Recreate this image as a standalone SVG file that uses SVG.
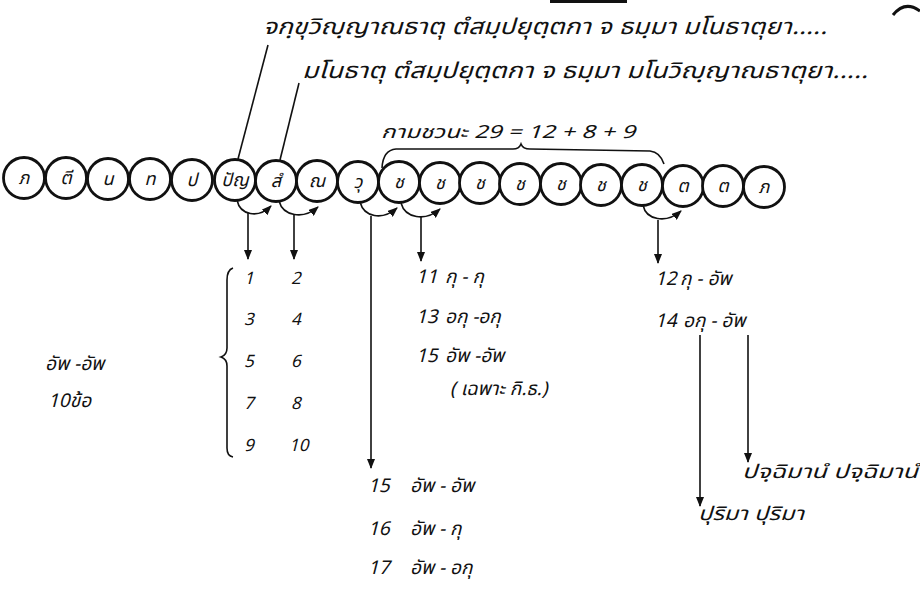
<svg xmlns="http://www.w3.org/2000/svg" width="920" height="592" viewBox="0 0 920 592">
<style>
  .t { font-family: 'Noto Sans Thai','Noto Serif Thai','Noto Sans','DejaVu Sans',sans-serif; font-style: italic; fill: #111; }
  .c { fill: #fff; stroke: #111; stroke-width: 2.8; }
  .cl { font-size: 18px; text-anchor: middle; }
  .ln { fill: none; stroke: #111; stroke-width: 1.6; }
  .num { font-size: 17px; }
  .it { font-size: 19px; }
</style>
<defs>
  <marker id="ah" markerUnits="userSpaceOnUse" markerWidth="10" markerHeight="8" refX="9" refY="4" orient="auto">
    <path d="M0,0 L10,4 L0,8 z" fill="#111"/>
  </marker>
</defs>
<rect width="920" height="592" fill="#fff"/>

<!-- page artifacts -->
<rect x="550" y="0" width="77" height="3" fill="#111"/>
<path d="M893 15 Q905 0 920 11" fill="none" stroke="#111" stroke-width="3"/>

<!-- top text -->
<g id="line1"><text class="t" x="263" y="34" font-size="22" textLength="564" lengthAdjust="spacingAndGlyphs">จกฺขุวิญฺญาณธาตุ  ตํสมฺปยุตฺตกา จ ธมฺมา  มโนธาตุยา.....</text></g>
<g id="line2"><text class="t" x="302" y="78" font-size="22" textLength="566" lengthAdjust="spacingAndGlyphs">มโนธาตุ  ตํสมฺปยุตฺตกา จ ธมฺมา  มโนวิญฺญาณธาตุยา.....</text></g>

<g id="javana-label"><text class="t" x="381" y="138" font-size="18" textLength="254" lengthAdjust="spacingAndGlyphs">กามชวนะ 29 = 12 + 8 + 9</text></g>

<!-- nodes -->
<g id="nodes">
  <g id="n1"><circle class="c" cx="24" cy="178" r="20.5"/><text class="t cl" x="24" y="184">ภ</text></g>
  <g id="n2"><circle class="c" cx="66" cy="178" r="20.5"/><text class="t cl" x="66" y="184">ตี</text></g>
  <g id="n3"><circle class="c" cx="108" cy="179" r="20.5"/><text class="t cl" x="108" y="185">น</text></g>
  <g id="n4"><circle class="c" cx="150" cy="179" r="20.5"/><text class="t cl" x="150" y="185">ท</text></g>
  <g id="n5"><circle class="c" cx="192" cy="180" r="20.5"/><text class="t cl" x="192" y="186">ป</text></g>
  <g id="n6"><circle class="c" cx="235" cy="180" r="20.5"/><text class="t cl" x="235" y="186">ปัญ</text></g>
  <g id="n7"><circle class="c" cx="276" cy="181" r="20.5"/><text class="t cl" x="276" y="187">สํ</text></g>
  <g id="n8"><circle class="c" cx="317" cy="181" r="20.5"/><text class="t cl" x="317" y="187">ณ</text></g>
  <g id="n9"><circle class="c" cx="358" cy="182" r="20.5"/><text class="t cl" x="358" y="188">วุ</text></g>
  <g id="n10"><circle class="c" cx="399" cy="182" r="20.5"/><text class="t cl" x="399" y="188">ช</text></g>
  <g id="n11"><circle class="c" cx="440" cy="183" r="20.5"/><text class="t cl" x="440" y="189">ช</text></g>
  <g id="n12"><circle class="c" cx="480" cy="183" r="20.5"/><text class="t cl" x="480" y="189">ช</text></g>
  <g id="n13"><circle class="c" cx="520" cy="184" r="20.5"/><text class="t cl" x="520" y="190">ช</text></g>
  <g id="n14"><circle class="c" cx="561" cy="184" r="20.5"/><text class="t cl" x="561" y="190">ช</text></g>
  <g id="n15"><circle class="c" cx="601" cy="185" r="20.5"/><text class="t cl" x="601" y="191">ช</text></g>
  <g id="n16"><circle class="c" cx="642" cy="185" r="20.5"/><text class="t cl" x="642" y="191">ช</text></g>
  <g id="n17"><circle class="c" cx="683" cy="186" r="20.5"/><text class="t cl" x="683" y="192">ต</text></g>
  <g id="n18"><circle class="c" cx="723" cy="186" r="20.5"/><text class="t cl" x="723" y="192">ต</text></g>
  <g id="n19"><circle class="c" cx="764" cy="187" r="20.5"/><text class="t cl" x="764" y="193">ภ</text></g>
</g>

<!-- connectors -->
<g id="connectors">
  <path class="ln" d="M238 159 L268 45"/>
  <path class="ln" d="M280 160 L299 83"/>
  <path class="ln" d="M382 168 Q383 150 396 149 L513 149 Q519 149 521 144 Q523 149 530 149 L650 151 Q660 152 664 164"/>
  <path class="ln" marker-end="url(#ah)" d="M237 200 C240 215 258 219 271 206"/>
  <path class="ln" marker-end="url(#ah)" d="M279 201 C283 216 303 220 318 207"/>
  <path class="ln" marker-end="url(#ah)" d="M360 202 C364 217 382 221 397 208"/>
  <path class="ln" marker-end="url(#ah)" d="M401 203 C405 218 425 222 440 209"/>
  <path class="ln" marker-end="url(#ah)" d="M643 205 C646 220 666 224 681 211"/>
  <path class="ln" marker-end="url(#ah)" d="M248 213 L248 259"/>
  <path class="ln" marker-end="url(#ah)" d="M294 214 L294 259"/>
  <path class="ln" marker-end="url(#ah)" d="M371 216 L371 468"/>
  <path class="ln" marker-end="url(#ah)" d="M421 217 L421 261"/>
  <path class="ln" marker-end="url(#ah)" d="M658 220 L658 263"/>
  <path class="ln" marker-end="url(#ah)" d="M700 335 L700 506"/>
  <path class="ln" marker-end="url(#ah)" d="M748 335 L748 462"/>
  <path class="ln" d="M233 268 Q227 270 227 280 L227 348 Q227 355 221 357 Q227 359 227 366 L227 448 Q227 456 233 457"/>
</g>

<!-- left column numbers -->
<g id="pairs" class="t num">
  <text x="244" y="284">1</text><text x="291" y="284">2</text>
  <text x="244" y="325">3</text><text x="291" y="325">4</text>
  <text x="244" y="367">5</text><text x="291" y="367">6</text>
  <text x="244" y="409">7</text><text x="291" y="409">8</text>
  <text x="244" y="451">9</text><text x="289" y="451">10</text>
</g>
<g id="left-label" class="t it">
  <text x="45" y="370">อัพ -อัพ</text>
  <text x="48" y="407">10ข้อ</text>
</g>

<g id="mid-items" class="t it">
  <text x="416" y="283">11</text><text x="445" y="283">กุ - กุ</text>
  <text x="416" y="323">13</text><text x="445" y="323">อกุ -อกุ</text>
  <text x="416" y="362">15</text><text x="445" y="362">อัพ -อัพ</text>
  <text x="450" y="395">( เฉพาะ กิ.ธ.)</text>
</g>

<g id="right-items" class="t it">
  <text x="655" y="285">12</text><text x="680" y="285">กุ - อัพ</text>
  <text x="655" y="327">14</text><text x="683" y="327">อกุ - อัพ</text>
  <text x="742" y="478" textLength="176" lengthAdjust="spacingAndGlyphs">ปจฺฉิมานํ ปจฺฉิมานํ</text>
  <text x="698" y="520" textLength="106" lengthAdjust="spacingAndGlyphs">ปุริมา ปุริมา</text>
</g>

<g id="bottom-items" class="t it">
  <text x="368" y="492">15</text><text x="410" y="492">อัพ - อัพ</text>
  <text x="368" y="535">16</text><text x="410" y="535">อัพ - กุ</text>
  <text x="368" y="574">17</text><text x="410" y="574">อัพ - อกุ</text>
</g>
</svg>
